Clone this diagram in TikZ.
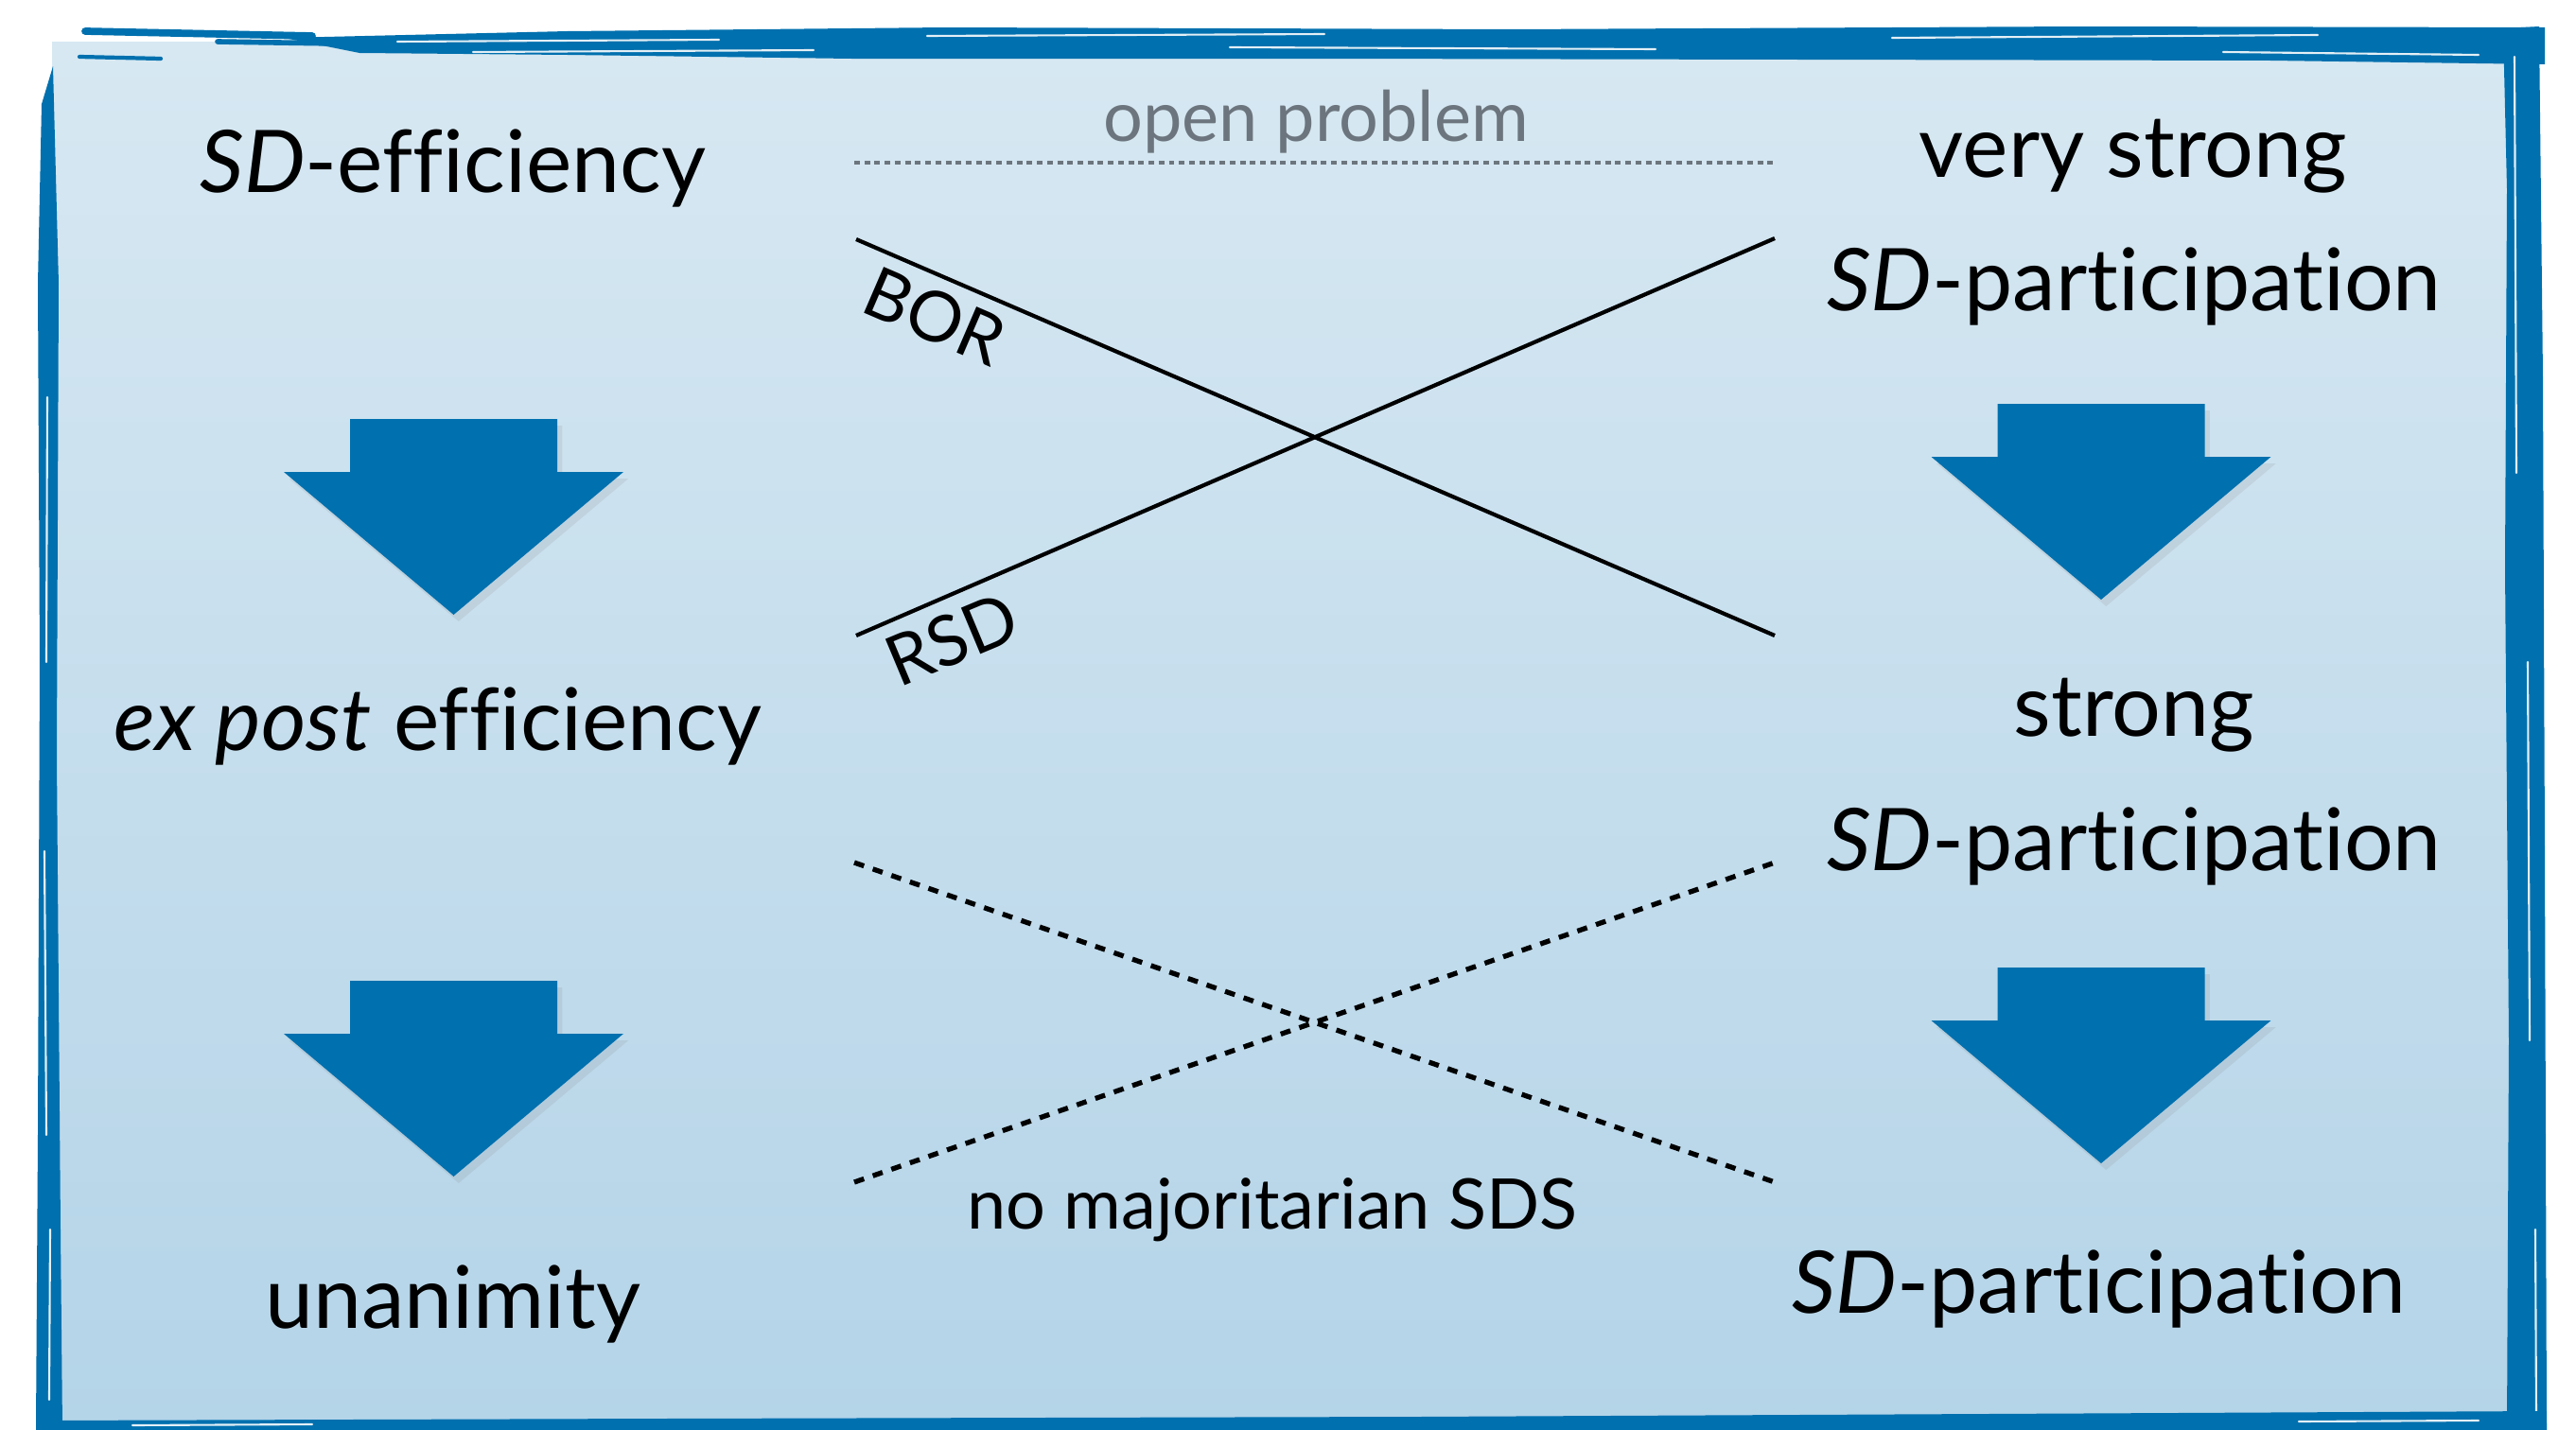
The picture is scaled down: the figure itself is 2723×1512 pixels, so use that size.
\documentclass[tikz,border=0pt]{standalone}
\usepackage{fontspec}
\setmainfont[Ligatures=NoCommon]{Lato}
\usetikzlibrary{shadows}

\definecolor{frameblue}{RGB}{0,112,174}
\definecolor{paneltop}{RGB}{215,232,242}
\definecolor{panelbottom}{RGB}{180,212,232}
\definecolor{notegrey}{RGB}{108,117,125}

\tikzset{
  implies/.pic={
    \fill[frameblue, drop shadow={opacity=0.15, shadow xshift=1.5pt, shadow yshift=-2pt}]
      (-109.5,0) -- (109.5,0) -- (109.5,56) -- (179.5,56) -- (0,207)
      -- (-179.5,56) -- (-109.5,56) -- cycle;
  }
}

\begin{document}
\begin{tikzpicture}[x=0.01cm, y=-0.01cm,
  bigtext/.style={anchor=base, inner sep=0pt, font=\fontsize{26}{30}\selectfont},
  smalltext/.style={anchor=base, inner sep=0pt, font=\fontsize{21}{25}\selectfont},
  tagtext/.style={anchor=base west, inner sep=0pt, font=\fontsize{21}{25}\selectfont},
  streak/.style={draw=paneltop!70!white, line width=0.6pt, line cap=round},
  solidlink/.style={draw=black, line width=1.2pt},
  dashlink/.style={draw=black, line width=1.5pt, dash pattern=on 3.1pt off 2.8pt},
  openlink/.style={draw=notegrey, line width=1.3pt, dash pattern=on 1.7pt off 1.35pt}
]
\useasboundingbox (0,0) rectangle (2723,1512);
\fill[white] (0,0) rectangle (2723,1512);

% panel with vertical gradient
\shade[top color=paneltop, bottom color=panelbottom] (55,44) rectangle (2655,1505);

% painted frame: top band
\fill[frameblue] (300,40) -- (600,33) -- (1000,29) -- (1600,31) -- (2200,28) -- (2690,29)
  -- (2690,68) -- (2400,64) -- (1900,63) -- (1400,62) -- (900,62) -- (600,58) -- (380,56) -- cycle;
\draw[frameblue, line width=2.2pt, line cap=round] (90,33) -- (330,38);
\draw[frameblue, line width=1.2pt, line cap=round] (84,60) -- (170,62);
\draw[frameblue, line width=1.6pt, line cap=round] (230,44) -- (420,47);
\draw[streak] (420,44) -- (760,42);
\draw[streak] (980,38) -- (1400,36);
\draw[streak] (1300,50) -- (1750,52);
\draw[streak] (2000,40) -- (2450,37);
\draw[streak] (500,55) -- (860,53);
\draw[streak] (2350,55) -- (2620,58);

% left edge
\fill[frameblue] (44,110) -- (56,70) -- (62,300) -- (60,800) -- (64,1300) -- (66,1512)
  -- (38,1512) -- (40,1200) -- (42,700) -- (40,300) -- cycle;
\draw[streak] (50,420) -- (49,700);
\draw[streak] (47,900) -- (49,1200);
\draw[streak] (53,1300) -- (52,1480);

% right edge
\fill[frameblue] (2646,30) -- (2684,28) -- (2688,400) -- (2690,900) -- (2692,1512)
  -- (2650,1512) -- (2652,1100) -- (2648,600) -- (2650,200) -- cycle;
\draw[streak] (2658,60) -- (2660,500);
\draw[streak] (2672,700) -- (2674,1100);
\draw[streak] (2680,1300) -- (2681,1500);

% bottom edge
\fill[frameblue] (38,1502) -- (700,1500) -- (1500,1498) -- (2300,1494) -- (2692,1492)
  -- (2692,1512) -- (38,1512) -- cycle;
\draw[streak] (140,1507) -- (330,1506);
\draw[streak] (2430,1503) -- (2620,1502);

% left column: efficiency notions
\node[bigtext] (sdeff) at (479,203) {\textit{SD}-efficiency};
\node[bigtext] (expost) at (463,793) {\textit{ex post} efficiency};
\node[bigtext] (unanim) at (479,1404) {unanimity};

% right column: participation notions
\node[bigtext] (vstrong) at (2255,187) {very strong};
\node[bigtext] (vstrongp) at (2256,328) {\textit{SD}-participation};
\node[bigtext] (strong) at (2256,778) {strong};
\node[bigtext] (strongp) at (2256,920) {\textit{SD}-participation};
\node[bigtext] (plainp) at (2219,1388) {\textit{SD}-participation};

% implication arrows
\pic at (479.5,443) {implies};
\pic at (479.5,1037) {implies};
\pic at (2221,427) {implies};
\pic at (2221,1023) {implies};

% compatibility results
\coordinate (op-a) at (903,172);
\coordinate (op-b) at (1876,172);
\coordinate (bor-a) at (905,253);
\coordinate (bor-b) at (1876,672);
\coordinate (rsd-a) at (905,672);
\coordinate (rsd-b) at (1876,252);
\coordinate (nm-a) at (903,912);
\coordinate (nm-b) at (1876,1250);
\coordinate (nm-c) at (903,1250);
\coordinate (nm-d) at (1876,912);

\draw[openlink] (op-a) -- (op-b);
\node[smalltext, text=notegrey] (open) at (1391,149) {open problem};

\draw[solidlink] (bor-a) -- (bor-b);
\draw[solidlink] (rsd-a) -- (rsd-b);
\node[tagtext, rotate=-23.3] (bor) at (907,328) {BOR};
\node[tagtext, rotate=22.7] (rsd) at (950,728) {RSD};

\draw[dashlink] (nm-a) -- (nm-b);
\draw[dashlink] (nm-c) -- (nm-d);
\node[smalltext] (nomaj) at (1345,1299) {no majoritarian SDS};
\end{tikzpicture}
\end{document}
